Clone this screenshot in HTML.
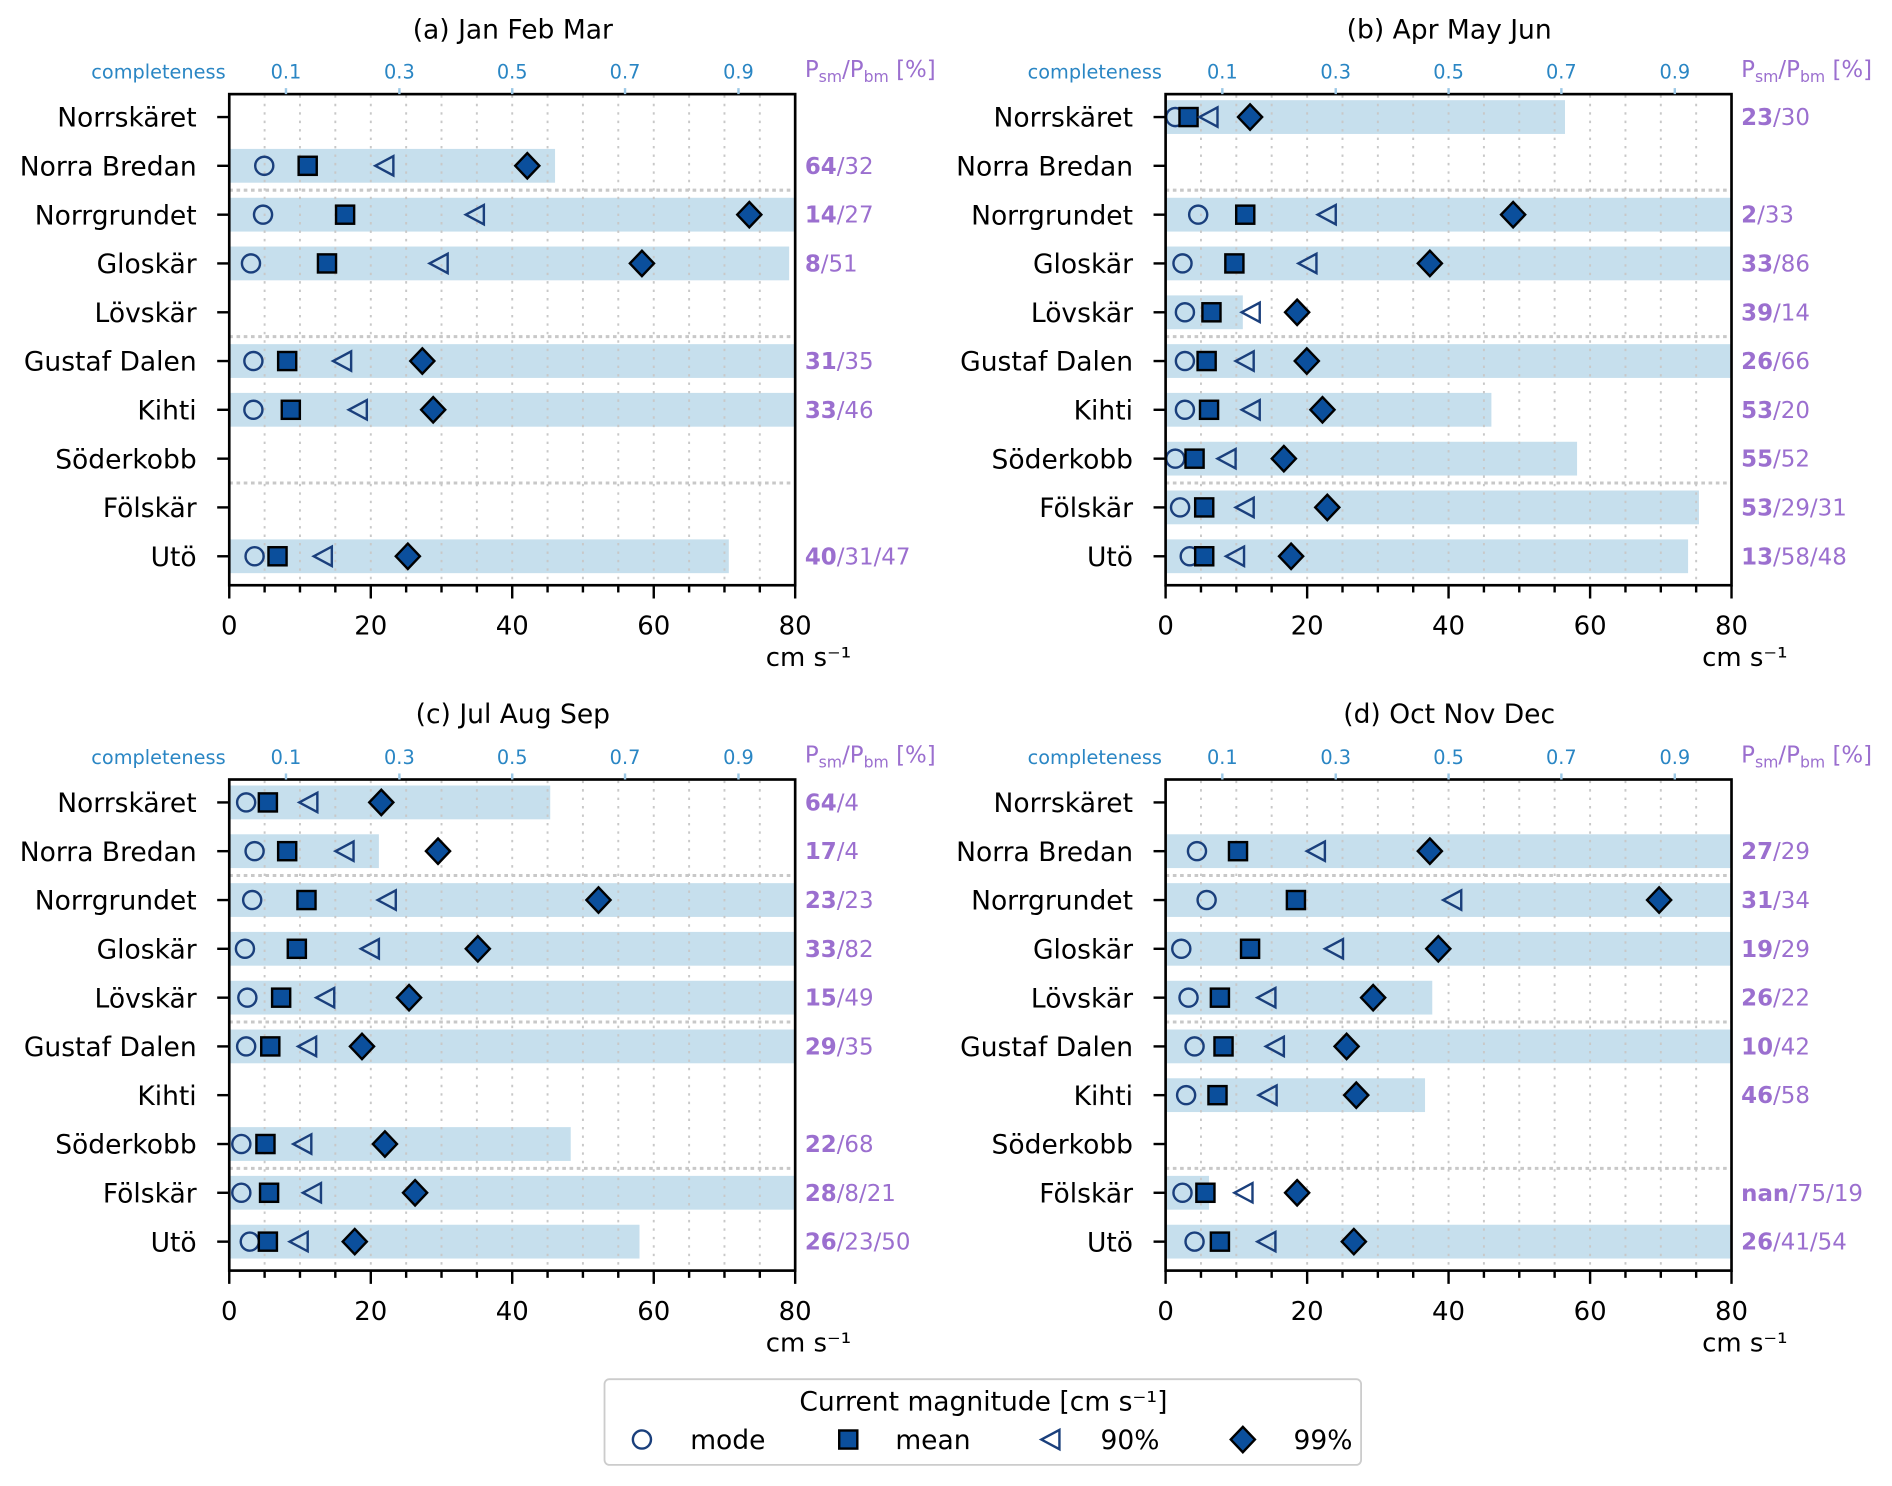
<!DOCTYPE html>
<html><head><meta charset="utf-8"><style>
html,body{margin:0;padding:0;background:#fff}
svg{display:block}
text{font-family:"DejaVu Sans","Liberation Sans",sans-serif}
.st{font-size:22px;text-anchor:end;fill:#000}
.tk{font-size:21.5px;text-anchor:middle;fill:#000}
.tt{font-size:22px;text-anchor:middle;fill:#000}
.lg{font-size:22px;fill:#000}
.cp{font-size:16px;text-anchor:middle;fill:#2a86c4}
.an{font-size:19px;fill:#9b6fcf}
.an tspan.b{font-weight:bold}
</style></head><body>
<svg width="1892" height="1486" viewBox="0 0 1568 1231.5" xmlns="http://www.w3.org/2000/svg">
<defs>
<circle id="c" r="7.5" fill="none" stroke="#1a3f7c" stroke-width="2"/>
<rect id="s" x="-7.5" y="-7.5" width="15" height="15" fill="#0b4f9c" stroke="#000" stroke-width="2"/>
<polygon id="t" points="-8,0 7,-8 7,8" fill="none" stroke="#1a3f7c" stroke-width="2" stroke-linejoin="miter"/>
<polygon id="d" points="0,-10.5 10,0 0,10.5 -10,0" fill="#0b4f9c" stroke="#000" stroke-width="2"/>
<g id="grid">
<g stroke="#c8c8c8" stroke-width="1.6" stroke-dasharray="2,5">
<line x1="219.3" y1="79" x2="219.3" y2="484"/><line x1="248.6" y1="79" x2="248.6" y2="484"/><line x1="277.9" y1="79" x2="277.9" y2="484"/><line x1="307.3" y1="79" x2="307.3" y2="484"/><line x1="336.6" y1="79" x2="336.6" y2="484"/><line x1="365.9" y1="79" x2="365.9" y2="484"/><line x1="395.2" y1="79" x2="395.2" y2="484"/><line x1="424.5" y1="79" x2="424.5" y2="484"/><line x1="453.8" y1="79" x2="453.8" y2="484"/><line x1="483.1" y1="79" x2="483.1" y2="484"/><line x1="512.4" y1="79" x2="512.4" y2="484"/><line x1="541.8" y1="79" x2="541.8" y2="484"/><line x1="571.1" y1="79" x2="571.1" y2="484"/><line x1="600.4" y1="79" x2="600.4" y2="484"/><line x1="629.7" y1="79" x2="629.7" y2="484"/>
</g>
<g stroke="#c8c8c8" stroke-width="2.5" stroke-dasharray="3,3">
<line x1="190" y1="157.6" x2="659" y2="157.6"/><line x1="190" y1="279" x2="659" y2="279"/><line x1="190" y1="400.3" x2="659" y2="400.3"/>
</g>
</g>
<g id="frame">
<rect x="190" y="78" width="469" height="407" fill="none" stroke="#000" stroke-width="2.2"/>
<g stroke="#000" stroke-width="2">
<line x1="190" y1="485" x2="190" y2="496"/><line x1="219.3" y1="485" x2="219.3" y2="491"/><line x1="248.6" y1="485" x2="248.6" y2="491"/><line x1="277.9" y1="485" x2="277.9" y2="491"/><line x1="307.3" y1="485" x2="307.3" y2="496"/><line x1="336.6" y1="485" x2="336.6" y2="491"/><line x1="365.9" y1="485" x2="365.9" y2="491"/><line x1="395.2" y1="485" x2="395.2" y2="491"/><line x1="424.5" y1="485" x2="424.5" y2="496"/><line x1="453.8" y1="485" x2="453.8" y2="491"/><line x1="483.1" y1="485" x2="483.1" y2="491"/><line x1="512.4" y1="485" x2="512.4" y2="491"/><line x1="541.8" y1="485" x2="541.8" y2="496"/><line x1="571.1" y1="485" x2="571.1" y2="491"/><line x1="600.4" y1="485" x2="600.4" y2="491"/><line x1="629.7" y1="485" x2="629.7" y2="491"/><line x1="659" y1="485" x2="659" y2="496"/>
<line x1="180" y1="97" x2="190" y2="97"/><line x1="180" y1="137.4" x2="190" y2="137.4"/><line x1="180" y1="177.9" x2="190" y2="177.9"/><line x1="180" y1="218.3" x2="190" y2="218.3"/><line x1="180" y1="258.8" x2="190" y2="258.8"/><line x1="180" y1="299.2" x2="190" y2="299.2"/><line x1="180" y1="339.6" x2="190" y2="339.6"/><line x1="180" y1="380.1" x2="190" y2="380.1"/><line x1="180" y1="420.5" x2="190" y2="420.5"/><line x1="180" y1="461" x2="190" y2="461"/>
</g>
<g stroke="#9cc8e6" stroke-width="2">
<line x1="237" y1="73" x2="237" y2="78"/><line x1="331" y1="73" x2="331" y2="78"/><line x1="424.5" y1="73" x2="424.5" y2="78"/><line x1="518" y1="73" x2="518" y2="78"/><line x1="612" y1="73" x2="612" y2="78"/>
</g>
</g>
</defs>

<!-- PANEL A -->
<g>
<g fill="#c6dfed">
<rect x="191" y="123.4" width="269" height="28"/>
<rect x="191" y="163.9" width="468" height="28"/>
<rect x="191" y="204.3" width="463" height="28"/>
<rect x="191" y="285.2" width="468" height="28"/>
<rect x="191" y="325.6" width="468" height="28"/>
<rect x="191" y="447" width="413" height="28"/>
</g>
<use href="#grid"/>
<g transform="translate(0,137.4)"><use href="#c" x="219"/><use href="#s" x="255"/><use href="#t" x="319"/><use href="#d" x="437"/></g>
<g transform="translate(0,177.9)"><use href="#c" x="218"/><use href="#s" x="286"/><use href="#t" x="394"/><use href="#d" x="621"/></g>
<g transform="translate(0,218.3)"><use href="#c" x="208"/><use href="#s" x="271"/><use href="#t" x="364"/><use href="#d" x="532"/></g>
<g transform="translate(0,299.2)"><use href="#c" x="210"/><use href="#s" x="238"/><use href="#t" x="284"/><use href="#d" x="350"/></g>
<g transform="translate(0,339.6)"><use href="#c" x="210"/><use href="#s" x="241"/><use href="#t" x="297"/><use href="#d" x="359"/></g>
<g transform="translate(0,461)"><use href="#c" x="211"/><use href="#s" x="230"/><use href="#t" x="268"/><use href="#d" x="338"/></g>
<use href="#frame"/>
<text class="tt" x="425" y="32">(a) Jan Feb Mar</text>
<text class="cp" x="187" y="65" style="text-anchor:end">completeness</text>
<text class="cp" x="237" y="65">0.1</text><text class="cp" x="331" y="65">0.3</text><text class="cp" x="424.5" y="65">0.5</text><text class="cp" x="518" y="65">0.7</text><text class="cp" x="612" y="65">0.9</text>
<text class="an" x="667" y="64">P<tspan font-size="13" dy="4">sm</tspan><tspan dy="-4">/P</tspan><tspan font-size="13" dy="4">bm</tspan><tspan dy="-4"> [%]</tspan></text>
<text class="st" x="163" y="105">Norrskäret</text><text class="st" x="163" y="145.4">Norra Bredan</text><text class="st" x="163" y="185.9">Norrgrundet</text><text class="st" x="163" y="226.3">Gloskär</text><text class="st" x="163" y="266.8">Lövskär</text><text class="st" x="163" y="307.2">Gustaf Dalen</text><text class="st" x="163" y="347.6">Kihti</text><text class="st" x="163" y="388.1">Söderkobb</text><text class="st" x="163" y="428.5">Fölskär</text><text class="st" x="163" y="469">Utö</text>
<text class="tk" x="190" y="526">0</text><text class="tk" x="307.3" y="526">20</text><text class="tk" x="424.5" y="526">40</text><text class="tk" x="541.8" y="526">60</text><text class="tk" x="659" y="526">80</text>
<text class="tk" x="670" y="552">cm s⁻¹</text>
<text class="an" x="667" y="144"><tspan class="b">64</tspan>/32</text>
<text class="an" x="667" y="184.5"><tspan class="b">14</tspan>/27</text>
<text class="an" x="667" y="225"><tspan class="b">8</tspan>/51</text>
<text class="an" x="667" y="306"><tspan class="b">31</tspan>/35</text>
<text class="an" x="667" y="346.3"><tspan class="b">33</tspan>/46</text>
<text class="an" x="667" y="467.7"><tspan class="b">40</tspan>/31/47</text>
</g>

<!-- PANEL B -->
<g transform="translate(776,0)">
<g fill="#c6dfed">
<rect x="191" y="83" width="330" height="28"/>
<rect x="191" y="163.9" width="468" height="28"/>
<rect x="191" y="204.3" width="468" height="28"/>
<rect x="191" y="244.8" width="63" height="28"/>
<rect x="191" y="285.2" width="468" height="28"/>
<rect x="191" y="325.6" width="269" height="28"/>
<rect x="191" y="366.1" width="340" height="28"/>
<rect x="191" y="406.5" width="441" height="28"/>
<rect x="191" y="447" width="432" height="28"/>
</g>
<use href="#grid"/>
<g transform="translate(0,97)"><use href="#c" x="198"/><use href="#s" x="209"/><use href="#t" x="226"/><use href="#d" x="260"/></g>
<g transform="translate(0,177.9)"><use href="#c" x="217"/><use href="#s" x="256"/><use href="#t" x="324"/><use href="#d" x="478"/></g>
<g transform="translate(0,218.3)"><use href="#c" x="204"/><use href="#s" x="247"/><use href="#t" x="308"/><use href="#d" x="409"/></g>
<g transform="translate(0,258.8)"><use href="#c" x="206"/><use href="#s" x="228"/><use href="#t" x="261"/><use href="#d" x="299"/></g>
<g transform="translate(0,299.2)"><use href="#c" x="206"/><use href="#s" x="224"/><use href="#t" x="256"/><use href="#d" x="307"/></g>
<g transform="translate(0,339.6)"><use href="#c" x="206"/><use href="#s" x="226"/><use href="#t" x="261"/><use href="#d" x="320"/></g>
<g transform="translate(0,380.1)"><use href="#c" x="198"/><use href="#s" x="214"/><use href="#t" x="241"/><use href="#d" x="288"/></g>
<g transform="translate(0,420.5)"><use href="#c" x="202"/><use href="#s" x="222"/><use href="#t" x="256"/><use href="#d" x="324"/></g>
<g transform="translate(0,461)"><use href="#c" x="210"/><use href="#s" x="222"/><use href="#t" x="248"/><use href="#d" x="294"/></g>
<use href="#frame"/>
<text class="tt" x="425" y="32">(b) Apr May Jun</text>
<text class="cp" x="187" y="65" style="text-anchor:end">completeness</text>
<text class="cp" x="237" y="65">0.1</text><text class="cp" x="331" y="65">0.3</text><text class="cp" x="424.5" y="65">0.5</text><text class="cp" x="518" y="65">0.7</text><text class="cp" x="612" y="65">0.9</text>
<text class="an" x="667" y="64">P<tspan font-size="13" dy="4">sm</tspan><tspan dy="-4">/P</tspan><tspan font-size="13" dy="4">bm</tspan><tspan dy="-4"> [%]</tspan></text>
<text class="st" x="163" y="105">Norrskäret</text><text class="st" x="163" y="145.4">Norra Bredan</text><text class="st" x="163" y="185.9">Norrgrundet</text><text class="st" x="163" y="226.3">Gloskär</text><text class="st" x="163" y="266.8">Lövskär</text><text class="st" x="163" y="307.2">Gustaf Dalen</text><text class="st" x="163" y="347.6">Kihti</text><text class="st" x="163" y="388.1">Söderkobb</text><text class="st" x="163" y="428.5">Fölskär</text><text class="st" x="163" y="469">Utö</text>
<text class="tk" x="190" y="526">0</text><text class="tk" x="307.3" y="526">20</text><text class="tk" x="424.5" y="526">40</text><text class="tk" x="541.8" y="526">60</text><text class="tk" x="659" y="526">80</text>
<text class="tk" x="670" y="552">cm s⁻¹</text>
<text class="an" x="667" y="103.6"><tspan class="b">23</tspan>/30</text>
<text class="an" x="667" y="184.5"><tspan class="b">2</tspan>/33</text>
<text class="an" x="667" y="225"><tspan class="b">33</tspan>/86</text>
<text class="an" x="667" y="265.5"><tspan class="b">39</tspan>/14</text>
<text class="an" x="667" y="306"><tspan class="b">26</tspan>/66</text>
<text class="an" x="667" y="346.3"><tspan class="b">53</tspan>/20</text>
<text class="an" x="667" y="386.8"><tspan class="b">55</tspan>/52</text>
<text class="an" x="667" y="427.2"><tspan class="b">53</tspan>/29/31</text>
<text class="an" x="667" y="467.7"><tspan class="b">13</tspan>/58/48</text>
</g>

<!-- PANEL C -->
<g transform="translate(0,568)">
<g fill="#c6dfed">
<rect x="191" y="83" width="265" height="28"/>
<rect x="191" y="123.4" width="123" height="28"/>
<rect x="191" y="163.9" width="468" height="28"/>
<rect x="191" y="204.3" width="468" height="28"/>
<rect x="191" y="244.8" width="468" height="28"/>
<rect x="191" y="285.2" width="468" height="28"/>
<rect x="191" y="366.1" width="282" height="28"/>
<rect x="191" y="406.5" width="468" height="28"/>
<rect x="191" y="447" width="339" height="28"/>
</g>
<use href="#grid"/>
<g transform="translate(0,97)"><use href="#c" x="204"/><use href="#s" x="222"/><use href="#t" x="256"/><use href="#d" x="316"/></g>
<g transform="translate(0,137.4)"><use href="#c" x="211"/><use href="#s" x="238"/><use href="#t" x="286"/><use href="#d" x="363"/></g>
<g transform="translate(0,177.9)"><use href="#c" x="209"/><use href="#s" x="254"/><use href="#t" x="321"/><use href="#d" x="496"/></g>
<g transform="translate(0,218.3)"><use href="#c" x="203"/><use href="#s" x="246"/><use href="#t" x="307"/><use href="#d" x="396"/></g>
<g transform="translate(0,258.8)"><use href="#c" x="205"/><use href="#s" x="233"/><use href="#t" x="270"/><use href="#d" x="339"/></g>
<g transform="translate(0,299.2)"><use href="#c" x="204"/><use href="#s" x="224"/><use href="#t" x="255"/><use href="#d" x="300"/></g>
<g transform="translate(0,380.1)"><use href="#c" x="200"/><use href="#s" x="220"/><use href="#t" x="251"/><use href="#d" x="319"/></g>
<g transform="translate(0,420.5)"><use href="#c" x="200"/><use href="#s" x="223"/><use href="#t" x="259"/><use href="#d" x="344"/></g>
<g transform="translate(0,461)"><use href="#c" x="207"/><use href="#s" x="222"/><use href="#t" x="248"/><use href="#d" x="294"/></g>
<use href="#frame"/>
<text class="tt" x="425" y="31">(c) Jul Aug Sep</text>
<text class="cp" x="187" y="65" style="text-anchor:end">completeness</text>
<text class="cp" x="237" y="65">0.1</text><text class="cp" x="331" y="65">0.3</text><text class="cp" x="424.5" y="65">0.5</text><text class="cp" x="518" y="65">0.7</text><text class="cp" x="612" y="65">0.9</text>
<text class="an" x="667" y="64">P<tspan font-size="13" dy="4">sm</tspan><tspan dy="-4">/P</tspan><tspan font-size="13" dy="4">bm</tspan><tspan dy="-4"> [%]</tspan></text>
<text class="st" x="163" y="105">Norrskäret</text><text class="st" x="163" y="145.4">Norra Bredan</text><text class="st" x="163" y="185.9">Norrgrundet</text><text class="st" x="163" y="226.3">Gloskär</text><text class="st" x="163" y="266.8">Lövskär</text><text class="st" x="163" y="307.2">Gustaf Dalen</text><text class="st" x="163" y="347.6">Kihti</text><text class="st" x="163" y="388.1">Söderkobb</text><text class="st" x="163" y="428.5">Fölskär</text><text class="st" x="163" y="469">Utö</text>
<text class="tk" x="190" y="526">0</text><text class="tk" x="307.3" y="526">20</text><text class="tk" x="424.5" y="526">40</text><text class="tk" x="541.8" y="526">60</text><text class="tk" x="659" y="526">80</text>
<text class="tk" x="670" y="552">cm s⁻¹</text>
<text class="an" x="667" y="103.6"><tspan class="b">64</tspan>/4</text>
<text class="an" x="667" y="144"><tspan class="b">17</tspan>/4</text>
<text class="an" x="667" y="184.5"><tspan class="b">23</tspan>/23</text>
<text class="an" x="667" y="225"><tspan class="b">33</tspan>/82</text>
<text class="an" x="667" y="265.5"><tspan class="b">15</tspan>/49</text>
<text class="an" x="667" y="306"><tspan class="b">29</tspan>/35</text>
<text class="an" x="667" y="386.8"><tspan class="b">22</tspan>/68</text>
<text class="an" x="667" y="427.2"><tspan class="b">28</tspan>/8/21</text>
<text class="an" x="667" y="467.7"><tspan class="b">26</tspan>/23/50</text>
</g>

<!-- PANEL D -->
<g transform="translate(776,568)">
<g fill="#c6dfed">
<rect x="191" y="123.4" width="468" height="28"/>
<rect x="191" y="163.9" width="468" height="28"/>
<rect x="191" y="204.3" width="468" height="28"/>
<rect x="191" y="244.8" width="220" height="28"/>
<rect x="191" y="285.2" width="468" height="28"/>
<rect x="191" y="325.6" width="214" height="28"/>
<rect x="191" y="406.5" width="35" height="28"/>
<rect x="191" y="447" width="468" height="28"/>
</g>
<use href="#grid"/>
<g transform="translate(0,137.4)"><use href="#c" x="216"/><use href="#s" x="250"/><use href="#t" x="315"/><use href="#d" x="409"/></g>
<g transform="translate(0,177.9)"><use href="#c" x="224"/><use href="#s" x="298"/><use href="#t" x="428"/><use href="#d" x="599"/></g>
<g transform="translate(0,218.3)"><use href="#c" x="203"/><use href="#s" x="260"/><use href="#t" x="330"/><use href="#d" x="416"/></g>
<g transform="translate(0,258.8)"><use href="#c" x="209"/><use href="#s" x="235"/><use href="#t" x="274"/><use href="#d" x="362"/></g>
<g transform="translate(0,299.2)"><use href="#c" x="214"/><use href="#s" x="238"/><use href="#t" x="281"/><use href="#d" x="340"/></g>
<g transform="translate(0,339.6)"><use href="#c" x="207"/><use href="#s" x="233"/><use href="#t" x="275"/><use href="#d" x="348"/></g>
<g transform="translate(0,420.5)"><use href="#c" x="204"/><use href="#s" x="223"/><use href="#t" x="255"/><use href="#d" x="299"/></g>
<g transform="translate(0,461)"><use href="#c" x="214"/><use href="#s" x="235"/><use href="#t" x="274"/><use href="#d" x="346"/></g>
<use href="#frame"/>
<text class="tt" x="425" y="31">(d) Oct Nov Dec</text>
<text class="cp" x="187" y="65" style="text-anchor:end">completeness</text>
<text class="cp" x="237" y="65">0.1</text><text class="cp" x="331" y="65">0.3</text><text class="cp" x="424.5" y="65">0.5</text><text class="cp" x="518" y="65">0.7</text><text class="cp" x="612" y="65">0.9</text>
<text class="an" x="667" y="64">P<tspan font-size="13" dy="4">sm</tspan><tspan dy="-4">/P</tspan><tspan font-size="13" dy="4">bm</tspan><tspan dy="-4"> [%]</tspan></text>
<text class="st" x="163" y="105">Norrskäret</text><text class="st" x="163" y="145.4">Norra Bredan</text><text class="st" x="163" y="185.9">Norrgrundet</text><text class="st" x="163" y="226.3">Gloskär</text><text class="st" x="163" y="266.8">Lövskär</text><text class="st" x="163" y="307.2">Gustaf Dalen</text><text class="st" x="163" y="347.6">Kihti</text><text class="st" x="163" y="388.1">Söderkobb</text><text class="st" x="163" y="428.5">Fölskär</text><text class="st" x="163" y="469">Utö</text>
<text class="tk" x="190" y="526">0</text><text class="tk" x="307.3" y="526">20</text><text class="tk" x="424.5" y="526">40</text><text class="tk" x="541.8" y="526">60</text><text class="tk" x="659" y="526">80</text>
<text class="tk" x="670" y="552">cm s⁻¹</text>
<text class="an" x="667" y="144"><tspan class="b">27</tspan>/29</text>
<text class="an" x="667" y="184.5"><tspan class="b">31</tspan>/34</text>
<text class="an" x="667" y="225"><tspan class="b">19</tspan>/29</text>
<text class="an" x="667" y="265.5"><tspan class="b">26</tspan>/22</text>
<text class="an" x="667" y="306"><tspan class="b">10</tspan>/42</text>
<text class="an" x="667" y="346.3"><tspan class="b">46</tspan>/58</text>
<text class="an" x="667" y="427.2"><tspan class="b">nan</tspan>/75/19</text>
<text class="an" x="667" y="467.7"><tspan class="b">26</tspan>/41/54</text>
</g>

<!-- LEGEND -->
<rect x="501" y="1143" width="627" height="71" rx="4" fill="#fff" stroke="#ccc" stroke-width="1.5"/>
<text class="tt" x="815" y="1169">Current magnitude [cm s⁻¹]</text>
<use href="#c" x="532" y="1193"/><text class="lg" x="572" y="1201">mode</text>
<use href="#s" x="703" y="1193"/><text class="lg" x="742" y="1201">mean</text>
<use href="#t" x="871" y="1193"/><text class="lg" x="912" y="1201">90%</text>
<use href="#d" x="1030" y="1193"/><text class="lg" x="1072" y="1201">99%</text>
</svg>
</body></html>
